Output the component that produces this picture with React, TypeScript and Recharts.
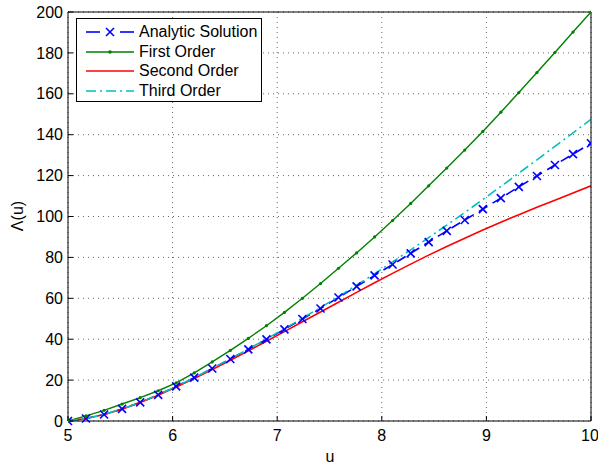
import {
  LineChart,
  Line,
  XAxis,
  YAxis,
  CartesianGrid,
  Legend,
} from 'recharts';

const uValues = [
  5, 5.172, 5.345, 5.517, 5.69, 5.862, 6.034, 6.207, 6.379, 6.552, 6.724, 6.897,
  7.069, 7.241, 7.414, 7.586, 7.759, 7.931, 8.103, 8.276, 8.448, 8.621, 8.793,
  8.966, 9.138, 9.31, 9.483, 9.655, 9.828, 10,
];
const analytic = [
  0, 1.2, 3.2, 5.9, 9.1, 12.8, 16.9, 21.2, 25.7, 30.3, 35.0, 39.9, 44.8, 49.9,
  55.0, 60.4, 65.8, 71.2, 76.5, 82.0, 87.5, 93.0, 98.3, 103.6, 109.0, 114.5,
  119.8, 125.2, 130.5, 135.8,
];
const firstOrder = [
  0, 2.5, 5.2, 8.3, 11.4, 14.8, 18.6, 23.5, 28.9, 34.5, 40.4, 46.6, 53.1, 60.0,
  67.2, 74.7, 82.2, 90.0, 98.0, 106.4, 115.0, 123.7, 132.5, 141.6, 151.0, 160.6,
  170.4, 180.2, 190.2, 200,
];
const secondOrder = [
  0, 1.2, 3.2, 5.8, 9.0, 12.6, 16.6, 20.8, 25.2, 29.7, 34.3, 39.0, 43.7, 48.5,
  53.3, 58.1, 62.9, 67.6, 72.2, 76.7, 81.1, 85.3, 89.4, 93.4, 97.2, 100.9, 104.5,
  108.0, 111.5, 115.0,
];
const thirdOrder = [
  0, 1.2, 3.2, 5.9, 9.1, 12.8, 16.9, 21.2, 25.7, 30.4, 35.2, 40.1, 45.1, 50.3,
  55.5, 60.9, 66.4, 72.0, 77.8, 83.7, 89.7, 95.8, 102.0, 108.3, 114.7, 121.2,
  127.7, 134.3, 140.9, 147.5,
];
const xTicks = [5, 6, 7, 8, 9, 10];
const yTicks = [0, 20, 40, 60, 80, 100, 120, 140, 160, 180, 200];

const data = uValues.map((u, i) => ({
  u,
  analytic: analytic[i],
  first: firstOrder[i],
  second: secondOrder[i],
  third: thirdOrder[i],
}));

const FONT = 'Arial, "Liberation Sans", sans-serif';
const BLUE = '#0000ff';
const GREEN = '#008000';
const RED = '#ff0000';
const CYAN = '#00bfbf';

// x-shaped marker like matlab's 'x'
const CrossDot = (props: any) => {
  const {cx, cy} = props;
  if (cx == null || cy == null) return null;
  const s = 4;
  return (
    <g stroke={BLUE} strokeWidth={1.6}>
      <line x1={cx - s} y1={cy - s} x2={cx + s} y2={cy + s} />
      <line x1={cx - s} y1={cy + s} x2={cx + s} y2={cy - s} />
    </g>
  );
};

const SmallDot = (props: any) => {
  const {cx, cy} = props;
  if (cx == null || cy == null) return null;
  return <circle cx={cx} cy={cy} r={1.6} fill={GREEN} stroke="none" />;
};

const legendRows = [
  {name: 'Analytic Solution', color: BLUE, dash: undefined, marker: 'x'},
  {name: 'First Order', color: GREEN, dash: undefined, marker: 'dot'},
  {name: 'Second Order', color: RED, dash: undefined, marker: ''},
  {name: 'Third Order', color: CYAN, dash: '10 4 2 4', marker: ''},
];

const MatlabLegend = () => (
  <div
    style={{
      width: 184,
      height: 82,
      border: '1px solid #000',
      background: '#fff',
      fontFamily: FONT,
      fontSize: 16,
      color: '#000',
      position: 'relative',
    }}>
    {legendRows.map((r, i) => (
      <div
        key={r.name}
        style={{
          position: 'absolute',
          left: 0,
          top: 3 + i * 19.7,
          height: 20,
          display: 'flex',
          alignItems: 'center',
        }}>
        <svg width={62} height={20} style={{display: 'block'}}>
          {r.marker === 'x' ? (
            <g stroke={BLUE} strokeWidth={1.6}>
              <line x1={9} y1={10} x2={23} y2={10} />
              <line x1={43} y1={10} x2={57} y2={10} />
              <line x1={29} y1={6} x2={37} y2={14} />
              <line x1={29} y1={14} x2={37} y2={6} />
            </g>
          ) : (
            <line
              x1={9}
              y1={10}
              x2={57}
              y2={10}
              stroke={r.color}
              strokeWidth={1.6}
              strokeDasharray={r.dash}
            />
          )}
          {r.marker === 'dot' && <circle cx={33} cy={10} r={1.8} fill={GREEN} />}
        </svg>
        <span style={{whiteSpace: 'nowrap'}}>{r.name}</span>
      </div>
    ))}
  </div>
);

const tickStyle = {fontFamily: FONT, fontSize: 16, fill: '#000'};

export default function App() {
  return (
    <div style={{position: 'absolute', left: 0, top: 0, background: '#fff'}}>
      <LineChart
        width={598}
        height={466}
        data={data}
        margin={{top: 0, right: 0, bottom: 0, left: 0}}>
        <CartesianGrid
          stroke="#666"
          strokeDasharray="1 4"
          horizontalValues={yTicks}
          verticalValues={xTicks}
        />
        <XAxis
          dataKey="u"
          type="number"
          domain={[5, 10]}
          ticks={xTicks}
          height={45}
          tickSize={-5}
          tickMargin={14}
          tick={tickStyle}
          stroke="#000"
          allowDataOverflow
          label={{
            content: () => (
              <text
                x={330}
                y={462}
                textAnchor="middle"
                fontFamily={FONT}
                fontSize={16}
                fill="#000">
                u
              </text>
            ),
          }}
        />
        <XAxis
          xAxisId="top"
          orientation="top"
          dataKey="u"
          type="number"
          domain={[5, 10]}
          ticks={xTicks}
          height={12}
          tickSize={-5}
          tick={false}
          stroke="#000"
        />
        <YAxis
          type="number"
          domain={[0, 200]}
          ticks={yTicks}
          width={68}
          tickSize={-5}
          tickMargin={10}
          tick={tickStyle}
          stroke="#000"
          label={{
            content: () => (
              <text
                transform="translate(23,216) rotate(-90)"
                textAnchor="middle"
                fontFamily={FONT}
                fontSize={16}
                fill="#000">
                Λ(u)
              </text>
            ),
          }}
        />
        <YAxis
          yAxisId="right"
          orientation="right"
          type="number"
          domain={[0, 200]}
          ticks={yTicks}
          width={7}
          tickSize={-5}
          tick={false}
          stroke="#000"
        />
        <Legend
          layout="vertical"
          align="center"
          verticalAlign="middle"
          wrapperStyle={{left: 76, top: 18, width: 186, height: 84}}
          content={() => <MatlabLegend />}
        />
        <Line
          dataKey="analytic"
          type="linear"
          stroke={BLUE}
          strokeWidth={1.6}
          strokeDasharray="10 6"
          dot={<CrossDot />}
          activeDot={false}
          isAnimationActive={false}
        />
        <Line
          dataKey="first"
          type="linear"
          stroke={GREEN}
          strokeWidth={1.4}
          dot={<SmallDot />}
          activeDot={false}
          isAnimationActive={false}
        />
        <Line
          dataKey="second"
          type="linear"
          stroke={RED}
          strokeWidth={1.6}
          dot={false}
          activeDot={false}
          isAnimationActive={false}
        />
        <Line
          dataKey="third"
          type="linear"
          stroke={CYAN}
          strokeWidth={1.6}
          strokeDasharray="10 4 2 4"
          dot={false}
          activeDot={false}
          isAnimationActive={false}
        />
      </LineChart>
    </div>
  );
}
